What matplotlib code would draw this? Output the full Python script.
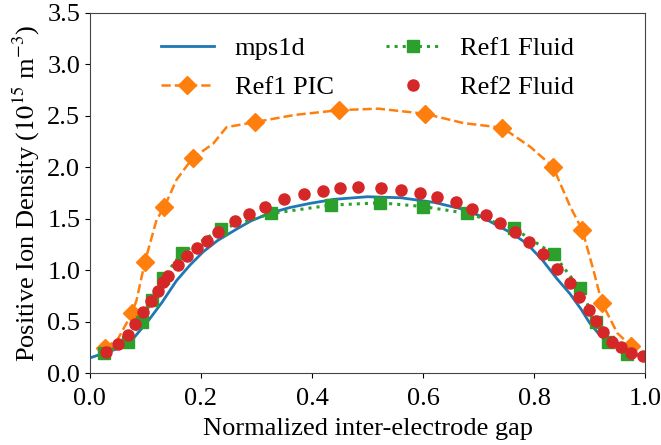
import matplotlib
matplotlib.use('Agg')
import matplotlib.pyplot as plt

plt.rcParams['font.family'] = ['Liberation Serif', 'DejaVu Serif']
plt.rcParams['mathtext.fontset'] = 'stix'

# mps1d simulation profile
mps_x = [0.0, 0.05, 0.08, 0.105, 0.13, 0.156, 0.18, 0.204, 0.23, 0.264,
         0.29, 0.324, 0.36, 0.396, 0.44, 0.5, 0.56, 0.62, 0.667, 0.70,
         0.727, 0.76, 0.787, 0.815, 0.841, 0.865, 0.885, 0.90, 0.92, 0.945,
         0.975, 1.0]
mps_y = [0.15, 0.24, 0.35, 0.51, 0.69, 0.90, 1.05, 1.18, 1.29, 1.40,
         1.48, 1.555, 1.61, 1.65, 1.69, 1.715, 1.705, 1.66, 1.60, 1.535,
         1.456, 1.36, 1.26, 1.10, 0.92, 0.77, 0.62, 0.49, 0.36, 0.27,
         0.20, 0.15]

# Ref1 PIC: curve points, markers only at the sampled positions
pic_x = [0.027, 0.05, 0.076, 0.084, 0.099, 0.12, 0.134, 0.156, 0.185, 0.222,
         0.246, 0.297, 0.37, 0.449, 0.52, 0.604, 0.673, 0.743, 0.793, 0.834,
         0.865, 0.887, 0.907, 0.922, 0.95, 0.975]
pic_y = [0.245, 0.33, 0.585, 0.71, 1.08, 1.49, 1.615, 1.88, 2.09, 2.23,
         2.39, 2.44, 2.51, 2.556, 2.57, 2.52, 2.43, 2.385, 2.20, 2.006,
         1.62, 1.39, 1.00, 0.686, 0.39, 0.265]
pic_marks = [0, 2, 4, 6, 8, 11, 13, 15, 17, 19, 21, 23, 25]

# Ref1 fluid model
fl1_x = [0.025, 0.069, 0.093, 0.111, 0.132, 0.165, 0.236, 0.327, 0.435,
         0.523, 0.60, 0.68, 0.763, 0.835, 0.882, 0.912, 0.934, 0.967]
fl1_y = [0.194, 0.307, 0.50, 0.71, 0.93, 1.165, 1.40, 1.553, 1.634,
         1.656, 1.62, 1.553, 1.41, 1.158, 0.825, 0.50, 0.307, 0.187]

# Ref2 fluid model
fl2_x = [0.029, 0.051, 0.069, 0.081, 0.096, 0.110, 0.123, 0.132, 0.141,
         0.158, 0.175, 0.192, 0.211, 0.231, 0.261, 0.287, 0.315, 0.35,
         0.386, 0.419, 0.45, 0.482, 0.524, 0.56, 0.595, 0.625, 0.659,
         0.688, 0.714, 0.738, 0.765, 0.79, 0.816, 0.842, 0.864, 0.881,
         0.898, 0.911, 0.925, 0.94, 0.956, 0.975, 0.997]
fl2_y = [0.21, 0.285, 0.372, 0.479, 0.598, 0.705, 0.80, 0.883, 0.945,
         1.048, 1.139, 1.213, 1.287, 1.375, 1.476, 1.544, 1.618, 1.69,
         1.74, 1.77, 1.796, 1.806, 1.796, 1.78, 1.748, 1.715, 1.666,
         1.60, 1.537, 1.462, 1.375, 1.278, 1.16, 1.013, 0.88, 0.744,
         0.62, 0.51, 0.398, 0.307, 0.252, 0.20, 0.168]

fig = plt.figure(figsize=(6.61, 4.45), dpi=100)
ax = fig.add_axes([0.136, 0.161, 0.840, 0.810])

ax.plot(mps_x, mps_y, '-', color='#1f77b4', linewidth=2, label='mps1d')
ax.plot(pic_x, pic_y, '--', color='#ff7f0e', linewidth=1.8, marker='D',
        markersize=9, markevery=pic_marks, label='Ref1 PIC')
ax.plot(fl1_x, fl1_y, ':', color='#2ca02c', linewidth=2.2, marker='s',
        markersize=8, label='Ref1 Fluid')
ax.plot(fl2_x, fl2_y, 'o', color='#d62728', markersize=8,
        label='Ref2 Fluid')

ax.set_xlim(0, 1.0)
ax.set_ylim(0, 3.5)
ax.set_xticks([0.0, 0.2, 0.4, 0.6, 0.8, 1.0])
ax.set_yticks([0.0, 0.5, 1.0, 1.5, 2.0, 2.5, 3.0, 3.5])
ax.tick_params(labelsize=19)
ax.tick_params(axis='x', pad=7)
ax.set_xlabel('Normalized inter-electrode gap', fontsize=19, labelpad=6)
ax.set_ylabel(r'Positive Ion Density ($10^{15}$ m$^{-3}$)', fontsize=19,
              labelpad=4)
for s in ax.spines.values():
    s.set_color('#444444')

ax.legend(loc='upper center', ncol=2, frameon=False, fontsize=19,
          labelspacing=0.6, borderaxespad=0.5)

fig.savefig('out.png', dpi=100)
